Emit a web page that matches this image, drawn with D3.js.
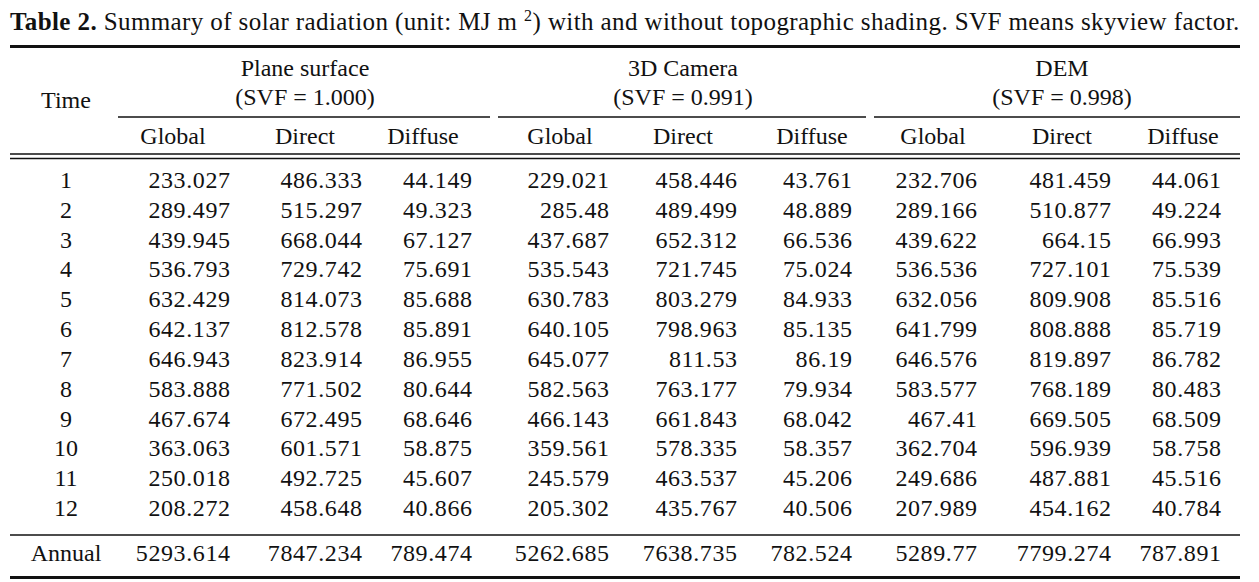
<!DOCTYPE html>
<html><head><meta charset="utf-8">
<script src="https://cdn.jsdelivr.net/npm/d3@7"></script>
<style>
html,body{margin:0;padding:0;background:#fff;}
svg text{font-family:"Liberation Serif","Times New Roman",serif;fill:#111;}
</style></head>
<body><svg id="c" width="1259" height="582"></svg>
<script>
// ---- data ----
const times = ["1","2","3","4","5","6","7","8","9","10","11","12"];
const groups = ["Plane surface","3D Camera","DEM"];
const svf = [1.000, 0.991, 0.998];
const components = ["Global","Direct","Diffuse"];
const planeGlobal = [233.027,289.497,439.945,536.793,632.429,642.137,646.943,583.888,467.674,363.063,250.018,208.272];
const planeDirect = [486.333,515.297,668.044,729.742,814.073,812.578,823.914,771.502,672.495,601.571,492.725,458.648];
const planeDiffuse = [44.149,49.323,67.127,75.691,85.688,85.891,86.955,80.644,68.646,58.875,45.607,40.866];
const camGlobal = [229.021,285.48,437.687,535.543,630.783,640.105,645.077,582.563,466.143,359.561,245.579,205.302];
const camDirect = [458.446,489.499,652.312,721.745,803.279,798.963,811.53,763.177,661.843,578.335,463.537,435.767];
const camDiffuse = [43.761,48.889,66.536,75.024,84.933,85.135,86.19,79.934,68.042,58.357,45.206,40.506];
const demGlobal = [232.706,289.166,439.622,536.536,632.056,641.799,646.576,583.577,467.41,362.704,249.686,207.989];
const demDirect = [481.459,510.877,664.15,727.101,809.908,808.888,819.897,768.189,669.505,596.939,487.881,454.162];
const demDiffuse = [44.061,49.224,66.993,75.539,85.516,85.719,86.782,80.483,68.509,58.758,45.516,40.784];
const annualLabel = "Annual";
const annual = [5293.614,7847.234,789.474,5262.685,7638.735,782.524,5289.77,7799.274,787.891];

const series = [planeGlobal,planeDirect,planeDiffuse,camGlobal,camDirect,camDiffuse,demGlobal,demDirect,demDiffuse];

// ---- layout ----
const svg = d3.select("#c");
const FS = 24;
const LS = 0.6;
const left = 10, right = 1240;

// title
const title = svg.append("text").attr("x", left).attr("y", 30).attr("font-size", 25)
  .attr("letter-spacing", 0.4);
title.append("tspan").attr("font-weight", "bold").text("Table 2.");
title.append("tspan").text(" Summary of solar radiation (unit: MJ m ");
title.append("tspan").attr("font-size", 16).attr("dy", -9).text("2");
title.append("tspan").attr("dy", 9).text(") with and without topographic shading. SVF means skyview factor.");

// column scales
const groupX = d3.scaleBand().domain(groups).range([118, 1246]);
const groupSpan = g => [groupX(g) + (g === groups[0] ? 0 : 4), groupX(g) + groupX.bandwidth() - (g === groups[2] ? 6 : 4)];
const colKeys = d3.range(9);
const headerCenters = [173, 305, 423, 560, 683, 812, 933, 1062, 1183];
const numRight = [230, 362, 472, 609, 737, 852, 977, 1111, 1221];
const xHead = d3.scaleOrdinal().domain(colKeys).range(headerCenters);
const xNum = d3.scaleOrdinal().domain(colKeys).range(numRight);

// row scale
const y = d3.scalePoint().domain(times).range([180, 508]);
const yAnnual = 553;

function hline(y0, x0, x1, w) {
  svg.append("line").attr("x1", x0).attr("x2", x1).attr("y1", y0).attr("y2", y0)
    .attr("stroke", "#111").attr("stroke-width", w);
}

// rules
hline(46.5, left, right, 3);
groups.forEach(g => { const s = groupSpan(g); hline(117, s[0], s[1], 1.6); });
hline(154, left, right, 1.4);
hline(158.5, left, right, 1.4);
hline(535, left, right, 1.6);
hline(577.5, left, right, 3);

// headers
svg.append("text").attr("x", 66).attr("y", 100).attr("font-size", FS)
  .attr("text-anchor", "middle").attr("dominant-baseline", "central").text("Time");
const gcent = [305, 683, 1062];
groups.forEach((g, i) => {
  svg.append("text").attr("x", gcent[i]).attr("y", 68).attr("font-size", FS)
    .attr("text-anchor", "middle").attr("dominant-baseline", "central").text(g);
  svg.append("text").attr("x", gcent[i]).attr("y", 97).attr("font-size", FS)
    .attr("text-anchor", "middle").attr("dominant-baseline", "central")
    .text("(SVF = " + d3.format(".3f")(svf[i]) + ")");
});
colKeys.forEach(k => {
  svg.append("text").attr("x", xHead(k)).attr("y", 136).attr("font-size", FS)
    .attr("text-anchor", "middle").attr("dominant-baseline", "central")
    .text(components[k % 3]);
});

// body
function num(x0, y0, v) {
  svg.append("text").attr("x", x0 + LS).attr("y", y0).attr("font-size", FS)
    .attr("letter-spacing", LS)
    .attr("text-anchor", "end").attr("dominant-baseline", "central").text(String(v));
}
times.forEach((t, r) => {
  svg.append("text").attr("x", 66).attr("y", y(t)).attr("font-size", FS)
    .attr("text-anchor", "middle").attr("dominant-baseline", "central").text(t);
  series.forEach((s, k) => num(xNum(k), y(t), s[r]));
});
svg.append("text").attr("x", 66).attr("y", yAnnual).attr("font-size", FS)
  .attr("text-anchor", "middle").attr("dominant-baseline", "central").text(annualLabel);
annual.forEach((v, k) => num(xNum(k), yAnnual, v));
</script></body></html>
